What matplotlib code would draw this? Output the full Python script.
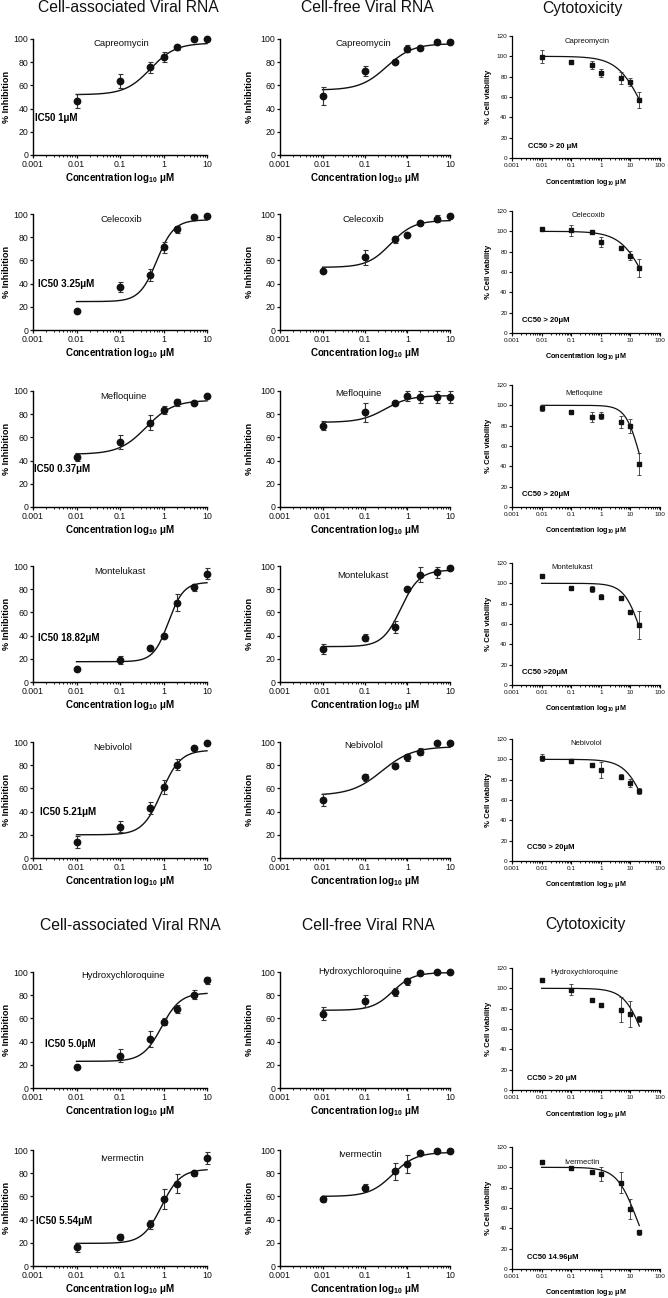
import numpy as np
import matplotlib
matplotlib.use('Agg')
import matplotlib.pyplot as plt
from matplotlib.ticker import FixedLocator, LogLocator, NullFormatter

plt.rcParams['font.family'] = ['Liberation Sans', 'DejaVu Sans']
plt.rcParams['mathtext.fontset'] = 'custom'
plt.rcParams['mathtext.rm'] = 'Liberation Sans'
plt.rcParams['mathtext.bf'] = 'Liberation Sans:bold'
plt.rcParams['mathtext.it'] = 'Liberation Sans:italic'

# ---------------- data ----------------
drugs = ['Capreomycin', 'Celecoxib', 'Mefloquine', 'Montelukast', 'Nebivolol',
         'Hydroxychloroquine', 'Ivermectin']
conc_inh = [0.01, 0.1, 0.5, 1, 2, 5, 10]
conc_cyto = [0.01, 0.1, 0.5, 1, 5, 10, 20]

col_titles = ['Cell-associated Viral RNA', 'Cell-free Viral RNA', 'Cytotoxicity']

# Cell-associated viral RNA (% inhibition)
ca_mean = [[46.7, 64, 75.5, 84.4, 92.8, 100, 100],
           [16.4, 36.9, 47.6, 71.2, 87, 97.4, 98],
           [42.8, 56.4, 72.5, 83.8, 90.5, 89.9, 95.7],
           [11.5, 19, 29, 40, 68.5, 81.5, 93.5],
           [14, 27, 43, 61, 80.5, 95, 99],
           [18, 28, 42.5, 57, 68, 80.5, 93],
           [16, 25, 36, 58, 71, 80.5, 93]]
ca_err = [[6, 6, 5, 4, 2, 0, 0],
          [0, 4.5, 5, 5, 3, 0, 0],
          [3.5, 6, 6.5, 3.5, 3, 0, 0],
          [0, 3.5, 0, 0, 7, 3, 5],
          [5, 5, 5, 6, 5, 0, 0],
          [0, 6, 7, 3, 3.5, 4, 3],
          [3.5, 3, 4, 8.5, 8, 2.5, 5]]
# fitted curve parameters: bottom, top, IC50, hill
ca_fit = [(52, 96.5, 0.5, 1.5),
          (24.5, 95, 0.7, 2.2),
          (45.5, 92, 0.4, 1.4),
          (17.5, 86, 1.3, 2.5),
          (20, 93, 0.9, 2.0),
          (23, 82, 0.9, 2.0),
          (19.5, 83.5, 0.9, 2.0)]
ic50_labels = ['IC50 1\u03bcM', 'IC50 3.25\u03bcM', 'IC50 0.37\u03bcM', 'IC50 18.82\u03bcM',
               'IC50 5.21\u03bcM', 'IC50 5.0\u03bcM', 'IC50 5.54\u03bcM']

# Cell-free viral RNA (% inhibition)
cf_mean = [[51, 72.6, 80.4, 91.4, 92.2, 97.4, 97.4],
           [51, 62.8, 78.4, 82.1, 92.2, 96, 98.6],
           [70, 81.5, 89.5, 95.5, 95, 95, 95],
           [28.5, 38, 47.5, 80, 92.5, 94.5, 98.5],
           [50, 69.5, 79.5, 87, 91.5, 99.5, 99.5],
           [64, 75, 82.5, 92, 99, 100, 100],
           [57.5, 67.5, 81.5, 88, 97.5, 99, 99.5]]
cf_err = [[7.5, 4.5, 1.5, 3, 2, 2, 2],
          [0, 6.5, 3, 0, 2, 3, 0],
          [4, 8, 1, 4.5, 5, 5, 5],
          [4, 3, 5, 0, 6.5, 4.5, 0],
          [5, 3, 2, 3, 3, 0, 0],
          [5.5, 5, 3.5, 3, 0, 0, 0],
          [2, 3, 7, 8, 0, 0, 1]]
cf_fit = [(56, 96, 0.32, 1.4),
          (54, 94.5, 0.4, 1.6),
          (73, 96, 0.3, 1.5),
          (30.5, 96.5, 0.7, 2.0),
          (54, 96, 0.25, 1.2),
          (67, 99.5, 0.45, 1.8),
          (60, 98, 0.45, 1.6)]

# Cytotoxicity (% cell viability)
cy_mean = [[99.8, 94.9, 91.9, 83.6, 78.7, 75, 56.9],
           [102.5, 100.9, 99.6, 89.2, 83.7, 76.2, 64.2],
           [97, 93.5, 88.5, 90, 84, 79.5, 42],
           [107, 95, 94.5, 87, 86, 72, 59],
           [101.5, 98, 94, 89.5, 83, 77, 69],
           [108, 98.5, 88.5, 83.5, 79, 75, 70],
           [105, 99, 95, 93.5, 85, 59, 36]]
cy_err = [[6, 1.5, 4, 3.5, 6, 4, 8],
          [2, 5, 1.5, 5, 1, 4.5, 9],
          [3, 1.5, 4.5, 3, 6, 7, 11],
          [0, 0, 3, 2.5, 1, 2, 14],
          [3.5, 1, 0, 7.5, 2.5, 4, 3],
          [2, 5.5, 2, 1, 12, 13, 3],
          [2, 0, 1.5, 7, 10, 10, 2.5]]
cy_fit = [(0, 100, 27, 1.0),
          (0, 100, 36, 1.0),
          (0, 100, 21, 1.8),
          (0, 100, 24, 1.5),
          (0, 100, 38, 1.2),
          (0, 100, 30, 1.3),
          (0, 100, 16, 1.3)]
cc50_labels = ['CC50 > 20 \u03bcM', 'CC50 > 20\u03bcM', 'CC50 > 20\u03bcM', 'CC50 >20\u03bcM',
               'CC50 > 20\u03bcM', 'CC50 > 20 \u03bcM', 'CC50 14.96\u03bcM']

inh_ticklabels = ['0.001', '0.01', '0.1', '1', '10']
cy_ticklabels = ['0.001', '0.01', '0.1', '1', '10', '100']

# ---------------- layout (positions only) ----------------
W, H = 668, 1298
fig = plt.figure(figsize=(W / 100, H / 100), dpi=100)

row_top = [39, 214, 391, 566, 742, 972, 1150]
row_top_cy = [36, 211, 385, 563, 739, 968, 1147]
inh_h = 116
cy_h = 122
col_x = [(33, 174), (280, 170), (512, 148)]

# annotation placement (axes-fraction x, data y)
name_pos = [[(0.51, 95.7), (0.51, 95), (0.52, 95), (0.50, 95), (0.46, 95.4), (0.52, 97), (0.51, 93)],
            [(0.49, 96), (0.49, 95), (0.46, 98), (0.49, 91.4), (0.49, 97.4), (0.47, 100), (0.47, 96)],
            [(0.51, 115), (0.52, 116), (0.49, 112), (0.41, 116), (0.50, 116), (0.49, 116), (0.47, 105)]]
ic50_pos = [(0.01, 32), (0.03, 40), (0.006, 33), (0.03, 38), (0.04, 40), (0.07, 38), (0.02, 39)]
cc50_pos = [(0.11, 11), (0.07, 12.7), (0.07, 12.6), (0.07, 12), (0.10, 13), (0.10, 11), (0.10, 11)]

xlabel_txt = 'Concentration log$_{\\mathbf{10}}$ \u03bcM'


def add_ax(x0, ytop, w, h):
    ax = fig.add_axes([x0 / W, 1 - (ytop + h) / H, w / W, h / H])
    ax.patch.set_alpha(0)
    return ax


def style(ax, xmax, ticklabels, ymax, tick_fs, lw):
    ax.set_xscale('log')
    ax.set_xlim(0.001, xmax)
    ax.set_ylim(0, ymax)
    for s in ['top', 'right']:
        ax.spines[s].set_visible(False)
    for s in ['left', 'bottom']:
        ax.spines[s].set_linewidth(lw)
    ax.xaxis.set_major_locator(FixedLocator([float(t) for t in ticklabels]))
    ax.set_xticklabels(ticklabels)
    ax.xaxis.set_minor_locator(LogLocator(base=10, subs=np.arange(2, 10), numticks=20))
    ax.xaxis.set_minor_formatter(NullFormatter())
    ax.set_yticks(np.arange(0, ymax + 1, 20))
    ax.set_yticklabels([str(int(v)) for v in np.arange(0, ymax + 1, 20)])
    ax.tick_params(axis='both', which='major', direction='out', length=2.3,
                   width=lw * 0.9, labelsize=tick_fs, pad=1.0, colors='#111111')
    ax.tick_params(axis='x', which='minor', direction='out', length=1.4, width=0.6)


def rising(p, x):
    b, t, ec, h = p
    return b + (t - b) / (1 + (ec / x) ** h)


def falling(p, x):
    b, t, ec, h = p
    return b + (t - b) / (1 + (x / ec) ** h)


xs_inh = np.logspace(np.log10(conc_inh[0]), np.log10(conc_inh[-1]), 300)
xs_cy = np.logspace(np.log10(conc_cyto[0]), np.log10(conc_cyto[-1]), 300)

for i, drug in enumerate(drugs):
    # --- columns 1 and 2: inhibition ---
    for c, (means, errs, fits) in enumerate([(ca_mean, ca_err, ca_fit),
                                             (cf_mean, cf_err, cf_fit)]):
        x0, w = col_x[c]
        ax = add_ax(x0, row_top[i], w, inh_h)
        style(ax, 10, inh_ticklabels, 100, 6.3, 1.0)
        ax.plot(xs_inh, rising(fits[i], xs_inh), color='#111111', lw=1.0, clip_on=False, zorder=2)
        e = ax.errorbar(conc_inh, means[i], yerr=errs[i], fmt='o', color='#111111',
                        ecolor='#333333', elinewidth=0.8, capsize=1.8, capthick=0.8,
                        markersize=4.6, clip_on=False, zorder=3)
        for art in e.lines[1] + e.lines[2]:
            art.set_clip_on(False)
        nx, ny = name_pos[c][i]
        ax.text(nx, ny, drug, transform=ax.get_yaxis_transform(),
                ha='center', va='center', fontsize=6.8, color='#111111')
        ax.set_ylabel('% Inhibition', fontsize=6.6, fontweight='bold')
        ax.yaxis.set_label_coords(-(26 if c == 0 else 30) / w, 0.5)
        ax.yaxis.label.set_va('center')
        ax.set_xlabel(xlabel_txt, fontsize=7, fontweight='bold')
        ax.xaxis.set_label_coords(0.5, -23 / inh_h)
        ax.xaxis.label.set_va('center')
        if c == 0:
            px, py = ic50_pos[i]
            ax.text(px, py, ic50_labels[i], transform=ax.get_yaxis_transform(),
                    ha='left', va='center', fontsize=7, fontweight='bold')

    # --- column 3: cytotoxicity ---
    x0, w = col_x[2]
    ax = add_ax(x0, row_top_cy[i], w, cy_h)
    style(ax, 100, cy_ticklabels, 120, 4.6, 0.9)
    ax.plot(xs_cy, falling(cy_fit[i], xs_cy), color='#111111', lw=0.9, clip_on=False, zorder=2)
    e = ax.errorbar(conc_cyto, cy_mean[i], yerr=cy_err[i], fmt='s', color='#111111',
                    ecolor='#333333', elinewidth=0.6, capsize=1.2, capthick=0.6,
                    markersize=2.3, clip_on=False, zorder=3)
    for art in e.lines[1] + e.lines[2]:
        art.set_clip_on(False)
    nx, ny = name_pos[2][i]
    ax.text(nx, ny, drug, transform=ax.get_yaxis_transform(), ha='center', va='center',
            fontsize=5.5, color='#111111')
    px, py = cc50_pos[i]
    ax.text(px, py, cc50_labels[i], transform=ax.get_yaxis_transform(),
            ha='left', va='center', fontsize=5.5, fontweight='bold')
    ax.set_ylabel('% Cell viability', fontsize=5.6, fontweight='bold')
    ax.yaxis.set_label_coords(-24 / w, 0.5)
    ax.yaxis.label.set_va('center')
    ax.set_xlabel(xlabel_txt, fontsize=5.2, fontweight='bold')
    ax.xaxis.set_label_coords(0.5, -24 / cy_h)
    ax.xaxis.label.set_va('center')

# column titles (two blocks)
for ty, xs in [(8, [128, 367, 582]), (925, [130, 368, 585])]:
    for t, xc in zip(col_titles, xs):
        fig.text(xc / W, 1 - ty / H, t, ha='center', va='center', fontsize=11.3,
                 color='#111111')

fig.savefig('out.png', dpi=100, facecolor='white')
